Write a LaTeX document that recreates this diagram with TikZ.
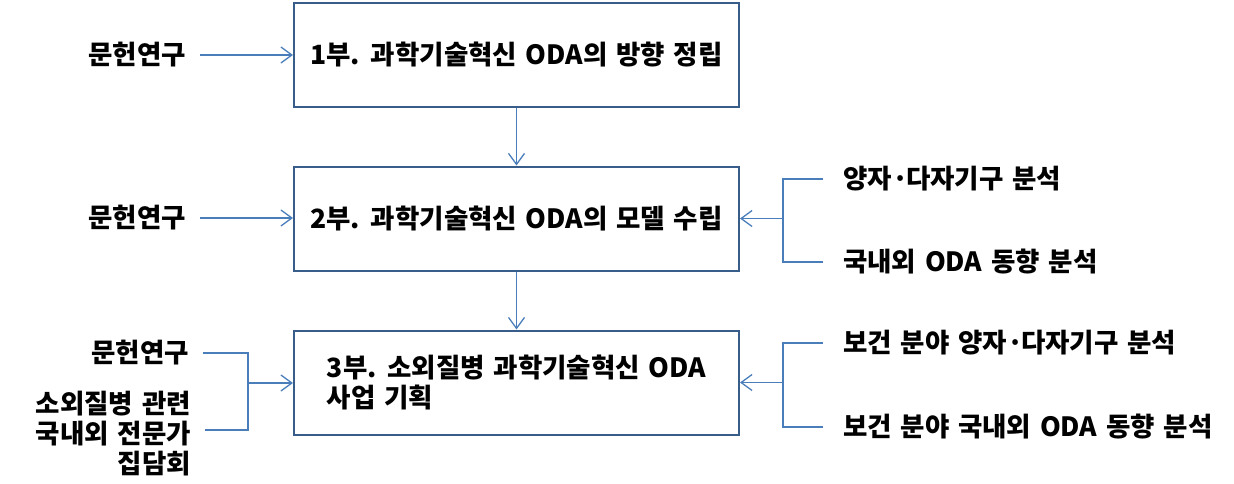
\documentclass[tikz,border=0pt]{standalone}
\usepackage{fontspec}
\setmainfont{Noto Sans CJK KR}
\usetikzlibrary{arrows.meta, positioning}
\definecolor{boxline}{RGB}{56,93,138}
\definecolor{feedline}{RGB}{74,126,187}

\newcommand{\middot}{\kern0.02em·\kern-0.1em}
\newcommand{\kfont}{\fontsize{26.5}{30}\selectfont\bfseries\spaceskip=0.33em}

\tikzset{
  part/.style={draw=boxline, line width=2pt, minimum width=445pt,
    minimum height=104pt, font=\kfont},
  srcleft/.style={anchor=east, inner xsep=14pt, align=right, font=\kfont},
  srcright/.style={anchor=west, inner xsep=20pt, font=\kfont},
  feed/.style={draw=feedline, line width=1.3pt},
  feedarrow/.style={feed, -{Straight Barb[length=11pt, width=16pt]}}
}

\begin{document}
\begin{tikzpicture}[x=1pt, y=-1pt]
  \useasboundingbox (0, 0) rectangle (1234, 484);

  % main parts
  \node[part]                  (p1) at (516.5, 55)    {1부. 과학기술혁신 ODA의 방향 정립};
  \node[part]                  (p2) at (516.5, 218.5) {2부. 과학기술혁신 ODA의 모델 수립};
  \node[part, align=left]      (p3) at (516.5, 382.5) {3부. 소외질병 과학기술혁신 ODA\\사업 기획};

  % left sources
  \node[srcleft]               (l1) at (200, 55)   {문헌연구};
  \node[srcleft]               (l2) at (200, 218)  {문헌연구};
  \node[srcleft]               (l3) at (203, 353)  {문헌연구};
  \node[srcleft]               (l4) at (205, 434)  {소외질병 관련\\국내외 전문가\\집담회};

  % right sources
  \node[srcright]              (r1) at (823, 179) {양자\middot 다자기구 분석};
  \node[srcright]              (r2) at (823, 262) {국내외 ODA 동향 분석};
  \node[srcright]              (r3) at (823, 343) {보건 분야 양자\middot 다자기구 분석};
  \node[srcright]              (r4) at (823, 427) {보건 분야 국내외 ODA 동향 분석};

  \coordinate (jl) at (248, 383);
  \coordinate (jr2) at (783, 218.5);
  \coordinate (jr3) at (783, 382.5);

  \draw[feedarrow] (p1) -- (p2);
  \draw[feedarrow] (p2) -- (p3);

  \draw[feedarrow] (l1.east) -- (l1.east -| p1.west);
  \draw[feedarrow] (l2.east) -- (l2.east -| p2.west);
  \draw[feed] (l3.east) -| (jl);
  \draw[feed] (l4.east |- 0, 430) -| (jl);
  \draw[feedarrow] (jl) -- (jl -| p3.west);

  \draw[feed] (r1.west) -| (jr2);
  \draw[feed] (r2.west) -| (jr2);
  \draw[feedarrow] (jr2) -- (p2.east);

  \draw[feed] (r3.west) -| (jr3);
  \draw[feed] (r4.west) -| (jr3);
  \draw[feedarrow] (jr3) -- (p3.east);
\end{tikzpicture}
\end{document}
